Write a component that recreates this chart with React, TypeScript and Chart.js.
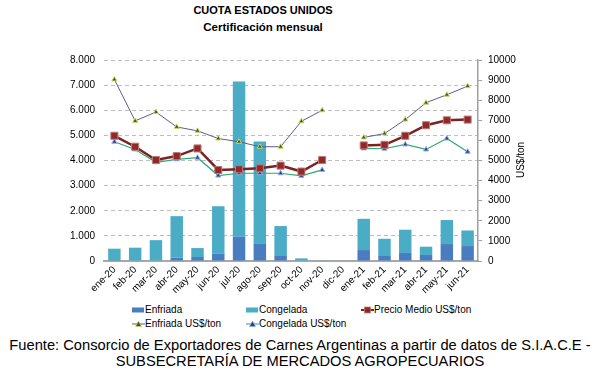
import React, { useEffect, useRef } from "react";
import { Chart, registerables } from "chart.js";

Chart.register(...registerables);

const categories = ["ene-20","feb-20","mar-20","abr-20","may-20","jun-20","jul-20","ago-20","sep-20","oct-20","nov-20","dic-20","ene-21","feb-21","mar-21","abr-21","may-21","jun-21"];
const enfriadaTon = [30,20,0,130,160,300,965,700,200,0,0,0,435,200,320,240,675,595];
const congeladaTon = [460,510,830,1655,355,1880,6175,4060,1190,105,25,0,1245,685,925,330,955,620];
const precioMedio = [6230,5685,5025,5220,5600,4530,4565,4610,4745,4450,5025,null,5750,5780,6230,6755,7000,7035];
const enfriadaUsd = [9030,6970,7410,6670,6475,6095,5930,5685,5685,6950,7500,null,6145,6340,7035,7875,8270,8700];
const congeladaUsd = [5930,5550,4910,5060,5140,4250,4365,4365,4365,4235,4530,null,5600,5585,5800,5550,6095,5435];

const FONT = 'Arial, "Liberation Sans", sans-serif';
const C_ENF = "#4a7dbf";
const C_CONG = "#4bacc6";
const C_PM = "#7d2121";
const C_PM_FILL = "#8f2a2a";
const C_PM_BORDER = "#c07a7a";
const C_EU_LINE = "#5e5c8c";
const C_EU_PT = "#4a5a1c";
const C_EU_PT_B = "#c9d96a";
const C_CU_LINE = "#2fa874";
const C_CU_PT = "#2d3c8c";
const C_CU_PT_B = "#8fb0e0";

function fmtDots(v: number) {
  return String(v).replace(/\B(?=(\d{3})+(?!\d))/g, ".");
}

function ChartBox() {
  const ref = useRef<HTMLCanvasElement | null>(null);
  useEffect(() => {
    if (!ref.current) return;
    const chart = new Chart(ref.current, {
      type: "bar",
      data: {
        labels: categories,
        datasets: [
          { type: "line", label: "Precio Medio US$/ton", data: precioMedio, yAxisID: "y1", borderColor: C_PM, borderWidth: 2.5, backgroundColor: C_PM_FILL, pointBorderColor: C_PM_BORDER, pointBorderWidth: 1, pointStyle: "rect", pointRadius: 5, spanGaps: false, order: 1 },
          { type: "line", label: "Enfriada US$/ton", data: enfriadaUsd, yAxisID: "y1", borderColor: C_EU_LINE, borderWidth: 1, backgroundColor: C_EU_PT, pointBorderColor: C_EU_PT_B, pointBorderWidth: 1, pointStyle: "triangle", pointRadius: 3, spanGaps: false, order: 2 },
          { type: "line", label: "Congelada US$/ton", data: congeladaUsd, yAxisID: "y1", borderColor: C_CU_LINE, borderWidth: 1.2, backgroundColor: C_CU_PT, pointBorderColor: C_CU_PT_B, pointBorderWidth: 1, pointStyle: "triangle", pointRadius: 3, spanGaps: false, order: 3 },
          { type: "bar", label: "Enfriada", data: enfriadaTon, yAxisID: "y", backgroundColor: C_ENF, barPercentage: 0.6, categoryPercentage: 1, order: 10 },
          { type: "bar", label: "Congelada", data: congeladaTon, yAxisID: "y", backgroundColor: C_CONG, barPercentage: 0.6, categoryPercentage: 1, order: 11 },
        ],
      },
      options: {
        responsive: false,
        animation: false,
        devicePixelRatio: 1,
        layout: { padding: { top: 60, left: 0, right: 0, bottom: 0 } },
        plugins: { legend: { display: false }, title: { display: false }, tooltip: { enabled: false } },
        scales: {
          x: {
            stacked: true,
            offset: true,
            grid: { display: false, drawTicks: false },
            border: { display: true, color: "#a8a8a8", width: 2 },
            ticks: { color: "#000", font: { family: FONT, size: 10 }, minRotation: 45, maxRotation: 45, padding: 3, autoSkip: false },
            afterFit: (s: any) => { s.height = 39; },
          },
          y: {
            stacked: true,
            position: "left",
            min: 0,
            max: 8000,
            grid: { color: "#bdbdbd", drawTicks: false, lineWidth: 1 },
            border: { display: false, dash: [4, 3] },
            ticks: { stepSize: 1000, color: "#000", font: { family: FONT, size: 10 }, padding: 9, callback: (v: any) => fmtDots(Number(v)) },
            afterFit: (s: any) => { s.width = 104; },
          },
          y1: {
            stacked: false,
            position: "right",
            min: 0,
            max: 10000,
            grid: { drawOnChartArea: false, drawTicks: true, tickLength: 4, color: "#a0a0a0" },
            border: { display: true, color: "#a0a0a0", width: 1.5 },
            ticks: { stepSize: 1000, color: "#000", font: { family: FONT, size: 10 }, padding: 6, callback: (v: any) => String(v) },
            afterFit: (s: any) => { s.width = 120; },
          },
        },
      },
    } as any);
    return () => chart.destroy();
  }, []);
  return <canvas ref={ref} width={598} height={300} style={{ position: "absolute", left: 0, top: 0, width: 598, height: 300 }} />;
}

function Marker({ kind }: { kind: string }) {
  const w = 13, h = 8;
  let inner: any = null;
  if (kind === "enf") inner = <rect x={0} y={1.5} width={12} height={5} fill={C_ENF} />;
  else if (kind === "cong") inner = <rect x={0} y={1.5} width={12} height={5} fill={C_CONG} />;
  else if (kind === "pm") inner = (<g><line x1={0} y1={4} x2={13} y2={4} stroke={C_PM} strokeWidth={2} /><rect x={3.5} y={1} width={6} height={6} fill={C_PM_FILL} stroke={C_PM_BORDER} strokeWidth={0.8} /></g>);
  else if (kind === "eu") inner = (<g><line x1={0} y1={4} x2={13} y2={4} stroke={C_EU_LINE} strokeWidth={1} /><polygon points="6.5,1 9.5,6.5 3.5,6.5" fill={C_EU_PT} stroke={C_EU_PT_B} strokeWidth={0.6} /></g>);
  else inner = (<g><line x1={0} y1={4} x2={13} y2={4} stroke={C_CU_LINE} strokeWidth={1} /><polygon points="6.5,1 9.5,6.5 3.5,6.5" fill={C_CU_PT} stroke={C_CU_PT_B} strokeWidth={0.6} /></g>);
  return <svg width={w} height={h} style={{ position: "absolute", left: 0, top: 2 }}>{inner}</svg>;
}

function LegendItem({ x, y, kind, text }: { x: number; y: number; kind: string; text: string }) {
  return (
    <div style={{ position: "absolute", left: x, top: y - 6, height: 12, whiteSpace: "nowrap", font: `10px ${FONT}`, lineHeight: "12px", color: "#000" }}>
      <Marker kind={kind} />
      <span style={{ position: "absolute", left: 13, top: 0 }}>{text}</span>
    </div>
  );
}

export default function App() {
  return (
    <div style={{ position: "absolute", left: 0, top: 0, width: 598, height: 372, background: "#fff", overflow: "hidden" }}>
      <div style={{ position: "absolute", left: 0, top: 3, width: 526, textAlign: "center", font: `bold 11px ${FONT}`, lineHeight: "14px", color: "#000" }}>CUOTA ESTADOS UNIDOS</div>
      <div style={{ position: "absolute", left: 0, top: 20, width: 526, textAlign: "center", font: `bold 11.5px ${FONT}`, lineHeight: "14px", color: "#000" }}>Certificación mensual</div>
      <ChartBox />
      <div style={{ position: "absolute", left: 521 - 30, top: 160 - 6, width: 60, height: 12, textAlign: "center", font: `10px ${FONT}`, lineHeight: "12px", color: "#000", transform: "rotate(-90deg)" }}>US$/ton</div>
      <LegendItem x={132} y={310} kind="enf" text="Enfriada" />
      <LegendItem x={246} y={310} kind="cong" text="Congelada" />
      <LegendItem x={361} y={310} kind="pm" text="Precio Medio US$/ton" />
      <LegendItem x={132} y={324} kind="eu" text="Enfriada US$/ton" />
      <LegendItem x={246} y={324} kind="cu" text="Congelada US$/ton" />
      <div style={{ position: "absolute", left: 0, top: 337, width: 600, textAlign: "center", font: `14.7px ${FONT}`, lineHeight: "16px", color: "#000", whiteSpace: "nowrap" }}>
        Fuente: Consorcio de Exportadores de Carnes Argentinas a partir de datos de S.I.A.C.E -<br />SUBSECRETARÍA DE MERCADOS AGROPECUARIOS
      </div>
    </div>
  );
}
